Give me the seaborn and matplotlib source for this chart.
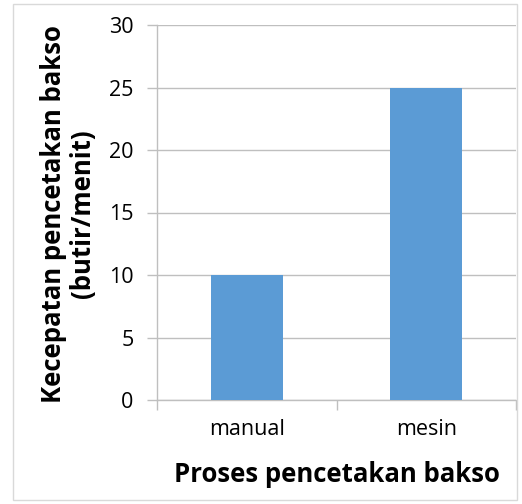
import matplotlib
matplotlib.use("Agg")
import matplotlib.pyplot as plt
import seaborn as sns
import pandas as pd
from matplotlib.patches import Rectangle

categories = ["manual", "mesin"]
values = [10, 25]
y_ticks = [0, 5, 10, 15, 20, 25, 30]
y_label = "Kecepatan pencetakan bakso\n(butir/menit)"
x_label = "Proses pencetakan bakso"

sns.set_theme(style="white")
plt.rcParams['font.family'] = ['Open Sans', 'DejaVu Sans']

df = pd.DataFrame({"proses": categories, "kecepatan": values})

fig = plt.figure(figsize=(5.22, 5.04), dpi=100)
ax = fig.add_axes([157/522, 1 - 400/504, (516 - 157)/522, (400 - 25)/504])

sns.barplot(data=df, x="proses", y="kecepatan", color="#5B9BD5", width=0.4,
            saturation=1, ax=ax, zorder=3, linewidth=0)

ax.set_ylim(0, 30)
ax.set_xlim(-0.5, 1.5)
ax.set_yticks(y_ticks)
ax.set_yticklabels([str(t) for t in y_ticks], fontsize=15.5, color="#000000")
ax.yaxis.grid(True, color="#BFBFBF", linewidth=1, zorder=0)
ax.set_axisbelow(True)

ax.set_xticks([0, 1])
ax.set_xticklabels(categories, fontsize=15.5, color="#000000")
ax.set_xticks([-0.5, 0.5, 1.5], minor=True)
ax.tick_params(axis="x", which="major", length=0, pad=14)
ax.tick_params(axis="x", which="minor", length=7, width=1, color="#BFBFBF", direction="out", bottom=True)
ax.tick_params(axis="y", which="major", length=7, width=1, color="#BFBFBF", direction="out", left=True, pad=10)

for s in ["top", "right"]:
    ax.spines[s].set_visible(False)
ax.spines["left"].set_color("#BFBFBF")
ax.spines["bottom"].set_color("#BFBFBF")
ax.spines["left"].set_linewidth(1)
ax.spines["bottom"].set_linewidth(1)

ax.set_xlabel("")
ax.set_ylabel("")
fig.text(68/522, 1 - 214/504, y_label, rotation=90, ha="center", va="center",
         fontsize=18.5, fontweight="bold", color="#000000", linespacing=1.1)
fig.text(337/522, 1 - 474/504, x_label, ha="center", va="center",
         fontsize=18.5, fontweight="bold", color="#000000")

fig.patches.append(Rectangle((13/522, 1 - 500/504), (517 - 13)/522, (500 - 4)/504,
                             transform=fig.transFigure, fill=False,
                             edgecolor="#D9D9D9", linewidth=1))

fig.savefig("out.png", dpi=100)
